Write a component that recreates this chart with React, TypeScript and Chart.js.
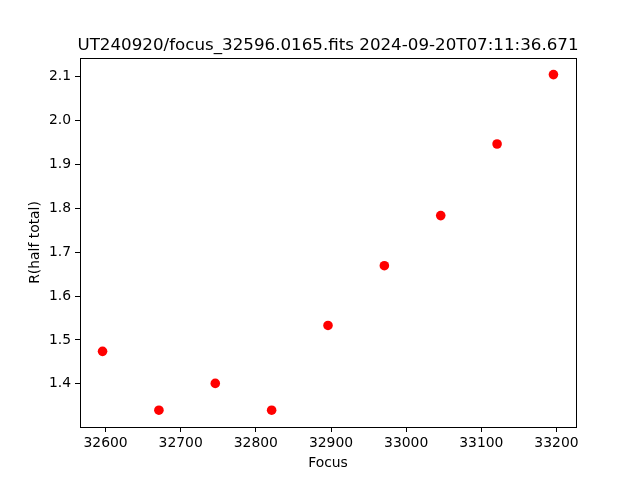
import React, { useEffect, useRef } from "react";
import { Chart, registerables } from "chart.js";

Chart.register(...registerables);

const TITLE = "UT240920/focus_32596.0165.fits 2024-09-20T07:11:36.671";
const X_LABEL = "Focus";
const Y_LABEL = "R(half total)";
const focusValues = [32596, 32671, 32746, 32821, 32896, 32971, 33046, 33121, 33196];
const radiusValues = [1.474, 1.34, 1.401, 1.34, 1.533, 1.669, 1.783, 1.946, 2.104];
const xTicks = [32600, 32700, 32800, 32900, 33000, 33100, 33200];
const yTicks = [1.4, 1.5, 1.6, 1.7, 1.8, 1.9, 2.0, 2.1];

const FONT = "'DejaVu Sans', sans-serif";

const framePlugin = {
  id: "frameAndLabels",
  afterDraw(chart: any) {
    const { ctx, chartArea } = chart;
    ctx.save();
    ctx.strokeStyle = "#000";
    ctx.lineWidth = 1;
    ctx.strokeRect(
      Math.round(chartArea.left) + 0.5,
      Math.round(chartArea.top) + 0.5,
      Math.round(chartArea.right - chartArea.left),
      Math.round(chartArea.bottom - chartArea.top)
    );
    const cx = (chartArea.left + chartArea.right) / 2;
    const cy = (chartArea.top + chartArea.bottom) / 2;
    ctx.fillStyle = "#000";
    ctx.textAlign = "center";
    ctx.textBaseline = "alphabetic";
    ctx.font = `16.7px ${FONT}`;
    ctx.fillText(TITLE, cx, chartArea.top - 8);
    ctx.font = `13.9px ${FONT}`;
    ctx.fillText(X_LABEL, cx, 467);
    ctx.translate(35, cy);
    ctx.rotate(-Math.PI / 2);
    ctx.textBaseline = "middle";
    ctx.fillText(Y_LABEL, 0, 0);
    ctx.restore();
  },
};

export default function App() {
  const ref = useRef<HTMLCanvasElement>(null);
  useEffect(() => {
    if (!ref.current) return;
    const chart = new Chart(ref.current, {
      type: "scatter",
      data: {
        datasets: [
          {
            data: focusValues.map((x, i) => ({ x, y: radiusValues[i] })),
            backgroundColor: "#ff0000",
            borderColor: "#ff0000",
            pointRadius: 4.8,
            pointHoverRadius: 4.8,
            borderWidth: 0,
            showLine: false,
          },
        ],
      },
      options: {
        responsive: false,
        animation: false,
        devicePixelRatio: 1,
        layout: { padding: { top: 58, right: 64, left: 0, bottom: 0 } },
        plugins: {
          legend: { display: false },
          title: { display: false },
          tooltip: { enabled: false },
        },
        scales: {
          x: {
            type: "linear",
            min: 32566,
            max: 33226,
            afterFit: (s: any) => {
              s.height = 53;
            },
            afterBuildTicks: (s: any) => {
              s.ticks = xTicks.map((v) => ({ value: v }));
            },
            grid: {
              drawOnChartArea: false,
              drawTicks: true,
              tickLength: 5,
              tickColor: "#000",
              tickWidth: 1,
            },
            border: { display: false },
            ticks: {
              color: "#000",
              font: { family: FONT, size: 13.9 },
              padding: 3,
              maxRotation: 0,
              autoSkip: false,
              callback: (v: any) => String(v),
            },
          },
          y: {
            type: "linear",
            min: 1.3018,
            max: 2.1418,
            afterFit: (s: any) => {
              s.width = 80;
            },
            afterBuildTicks: (s: any) => {
              s.ticks = yTicks.map((v) => ({ value: v }));
            },
            grid: {
              drawOnChartArea: false,
              drawTicks: true,
              tickLength: 5,
              tickColor: "#000",
              tickWidth: 1,
            },
            border: { display: false },
            ticks: {
              color: "#000",
              font: { family: FONT, size: 13.9 },
              padding: 4,
              autoSkip: false,
              callback: (v: any) => Number(v).toFixed(1),
            },
          },
        },
      },
      plugins: [framePlugin],
    });
    return () => chart.destroy();
  }, []);
  return (
    <div style={{ position: "fixed", left: 0, top: 0, width: 640, height: 480, background: "#fff" }}>
      <canvas ref={ref} width={640} height={480} />
    </div>
  );
}
